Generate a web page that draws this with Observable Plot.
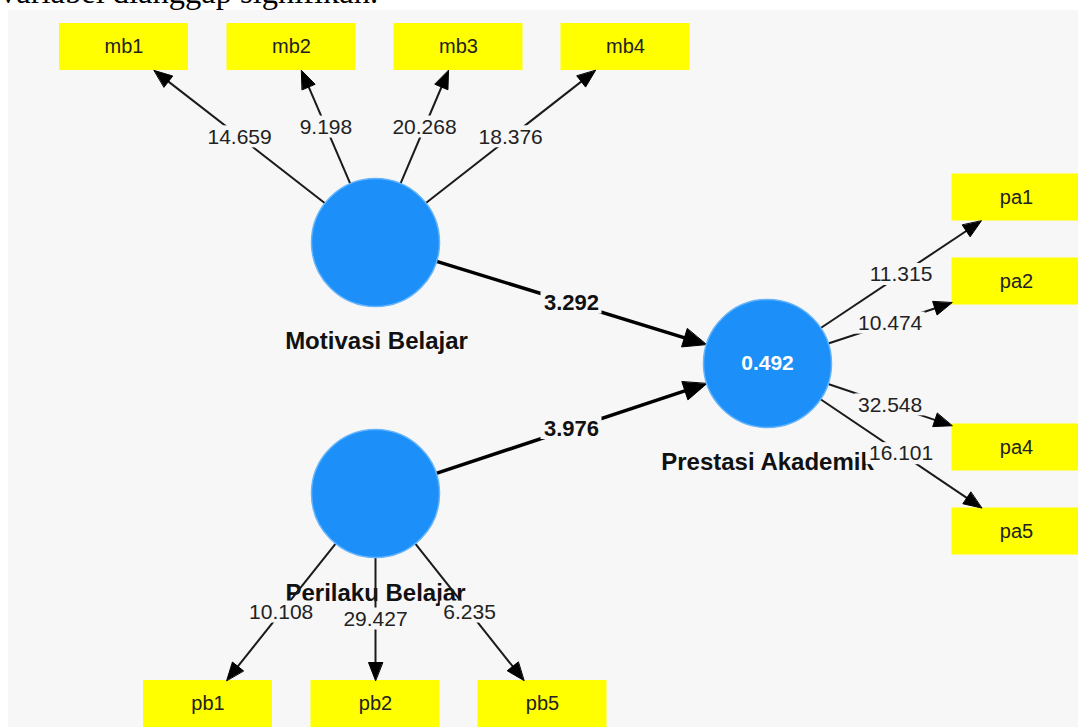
<!DOCTYPE html>
<html><head><meta charset="utf-8">
<script src="https://cdn.jsdelivr.net/npm/d3@7"></script>
<script src="https://cdn.jsdelivr.net/npm/@observablehq/plot@0.6"></script>
<style>
body{margin:0;background:#fff;overflow:hidden;}
#wrap{position:relative;width:1078px;height:727px;overflow:hidden;}
#bg{position:absolute;left:8px;top:10px;right:0;bottom:0;background:#f7f7f7;}
#cap{position:absolute;left:0;top:-24px;font-family:"Liberation Serif","Times New Roman",serif;font-size:32.5px;line-height:32px;color:#000;white-space:nowrap;z-index:2;}
#chart{position:absolute;left:0;top:0;}
</style></head><body>
<div id="wrap"><div id="bg"></div><div id="chart"></div><div id="cap">variabel dianggap signifikan.</div></div>
<script>
// ---- data ----
const constructs = ["Motivasi Belajar", "Perilaku Belajar", "Prestasi Akademik"];
const rSquared = [null, null, 0.492];
const pathFrom = ["Motivasi Belajar", "Perilaku Belajar"];
const pathTo = ["Prestasi Akademik", "Prestasi Akademik"];
const pathT = [3.292, 3.976];
const indicatorsMB = ["mb1", "mb2", "mb3", "mb4"];
const tMB = [14.659, 9.198, 20.268, 18.376];
const indicatorsPB = ["pb1", "pb2", "pb5"];
const tPB = [10.108, 29.427, 6.235];
const indicatorsPA = ["pa1", "pa2", "pa4", "pa5"];
const tPA = [11.315, 10.474, 32.548, 16.101];

// ---- layout (diagram positions, pixel units) ----
const nodePos = {
  "Motivasi Belajar": [375, 242], "Perilaku Belajar": [375, 493], "Prestasi Akademik": [767, 363],
  mb1: [123.5, 46.5], mb2: [291, 46.5], mb3: [458, 46.5], mb4: [625, 46.5],
  pa1: [1016, 197], pa2: [1016, 281], pa4: [1016, 447], pa5: [1016, 531],
  pb1: [207.5, 703.5], pb2: [375, 703.5], pb5: [542, 703.5]
};
const labelPos = {"Motivasi Belajar": [376, 341], "Perilaku Belajar": [375, 593], "Prestasi Akademik": [767, 462]};
const R = 64, BW = 129, BH = 47;

const blocks = [
  ["Motivasi Belajar", indicatorsMB, tMB],
  ["Perilaku Belajar", indicatorsPB, tPB],
  ["Prestasi Akademik", indicatorsPA, tPA]
];
const indicators = blocks.flatMap(b => b[1]);

// approximate label width (Arial metrics) for the label backgrounds
const textW = (s, size) => Array.from(s).reduce((w, ch) => w + (ch === "." ? 0.278 : 0.556), 0) * size;

const loadEdges = [], pathEdges = [], heads = [];
function addHead(id, tip, u, L, W) {
  const px = -u[1], py = u[0];
  const bx = tip[0] - L * u[0], by = tip[1] - L * u[1];
  heads.push({id, x: tip[0], y: tip[1]});
  heads.push({id, x: bx + px * W / 2, y: by + py * W / 2});
  heads.push({id, x: bx - px * W / 2, y: by - py * W / 2});
}
for (const [c, inds, ts] of blocks) {
  const cp = nodePos[c];
  inds.forEach((ind, i) => {
    const bp = nodePos[ind];
    const dx = bp[0] - cp[0], dy = bp[1] - cp[1], len = Math.hypot(dx, dy);
    const u = [dx / len, dy / len];
    const s = Math.min(dx ? (BW / 2) / Math.abs(dx) : Infinity, dy ? (BH / 2) / Math.abs(dy) : Infinity);
    const start = [cp[0] + R * u[0], cp[1] + R * u[1]];
    const tip = [bp[0] - dx * s, bp[1] - dy * s];
    const L = 18;
    const label = ts[i].toFixed(3);
    loadEdges.push({x1: start[0], y1: start[1], x2: tip[0] - u[0] * L * 0.8, y2: tip[1] - u[1] * L * 0.8,
      mx: (start[0] + tip[0]) / 2, my: (start[1] + tip[1]) / 2, label, w: textW(label, 21) + 6});
    addHead(ind, tip, u, L, 14);
  });
}
pathFrom.forEach((f, i) => {
  const a = nodePos[f], b = nodePos[pathTo[i]];
  const dx = b[0] - a[0], dy = b[1] - a[1], len = Math.hypot(dx, dy);
  const u = [dx / len, dy / len];
  const start = [a[0] + R * u[0], a[1] + R * u[1]];
  const tip = [b[0] - R * u[0], b[1] - R * u[1]];
  const L = 23;
  const label = pathT[i].toFixed(3);
  pathEdges.push({x1: start[0], y1: start[1], x2: tip[0] - u[0] * L * 0.8, y2: tip[1] - u[1] * L * 0.8,
    mx: (start[0] + tip[0]) / 2, my: (start[1] + tip[1]) / 2, label, w: textW(label, 22) + 6});
  addHead("p" + i, tip, u, L, 19);
});

const BG = "#f7f7f7";
const font = "'Liberation Sans', Arial, sans-serif";
const labelBg = (data) => Plot.rect(data, {x1: d => d.mx - d.w / 2, x2: d => d.mx + d.w / 2,
  y1: d => d.my - 11, y2: d => d.my + 11, fill: BG});
const chart = Plot.plot({
  width: 1078, height: 727,
  marginTop: 0, marginRight: 0, marginBottom: 0, marginLeft: 0,
  x: {domain: [0, 1078], range: [0, 1078], axis: null},
  y: {domain: [0, 727], range: [0, 727], axis: null},
  style: {background: "transparent", overflow: "visible", fontFamily: font},
  marks: [
    Plot.rect(indicators, {x1: d => nodePos[d][0] - BW / 2, x2: d => nodePos[d][0] + BW / 2,
      y1: d => nodePos[d][1] - BH / 2, y2: d => nodePos[d][1] + BH / 2, fill: "#ffff00"}),
    Plot.text(indicators, {x: d => nodePos[d][0], y: d => nodePos[d][1], text: d => d,
      fontSize: 20, fill: "#222", fontFamily: font}),
    Plot.text(constructs, {x: d => labelPos[d][0], y: d => labelPos[d][1], text: d => d,
      fontSize: 24, fontWeight: "bold", fill: "#111", fontFamily: font}),
    Plot.link(loadEdges, {x1: "x1", y1: "y1", x2: "x2", y2: "y2", stroke: "#1a1a1a", strokeWidth: 2}),
    Plot.link(pathEdges, {x1: "x1", y1: "y1", x2: "x2", y2: "y2", stroke: "#000", strokeWidth: 3.5}),
    Plot.line(heads, {x: "x", y: "y", z: "id", curve: "linear-closed", fill: "#000", stroke: "#000", strokeWidth: 1}),
    Plot.dot(constructs, {x: d => nodePos[d][0], y: d => nodePos[d][1], r: R,
      fill: "#1c8ff8", stroke: "#63b4fb", strokeWidth: 1.5}),
    Plot.text(constructs.filter((d, i) => rSquared[i] != null), {x: d => nodePos[d][0], y: d => nodePos[d][1],
      text: d => rSquared[constructs.indexOf(d)].toFixed(3), fill: "white", fontWeight: "bold", fontSize: 21, fontFamily: font}),
    labelBg(loadEdges),
    labelBg(pathEdges),
    Plot.text(loadEdges, {x: "mx", y: "my", text: "label", fontSize: 21, fill: "#222", fontFamily: font}),
    Plot.text(pathEdges, {x: "mx", y: "my", text: "label", fontSize: 22, fontWeight: "bold", fill: "#111", fontFamily: font})
  ]
});
document.getElementById("chart").appendChild(chart);
</script>
</body></html>
